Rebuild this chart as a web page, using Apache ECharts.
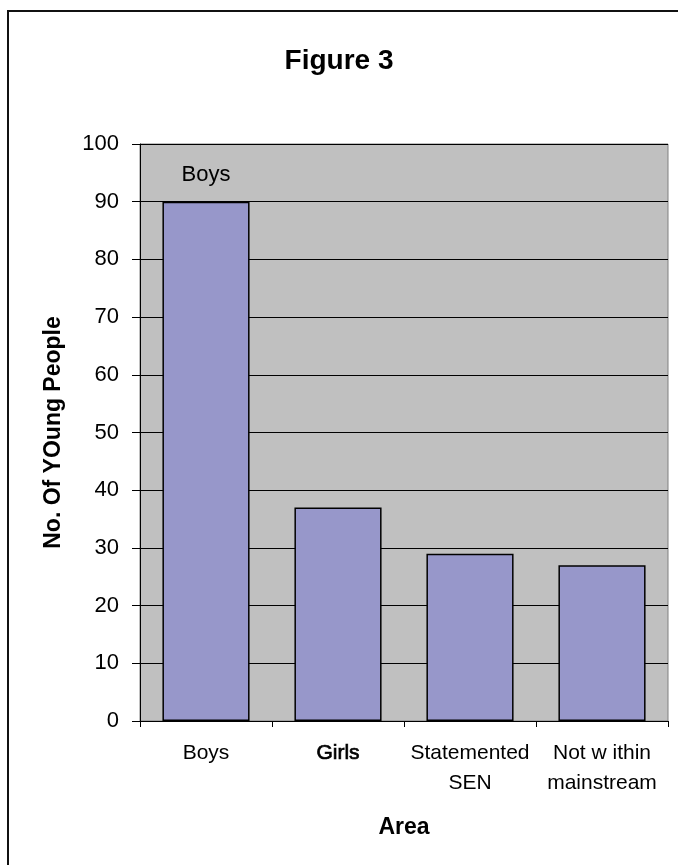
<!DOCTYPE html>
<html>
<head>
<meta charset="utf-8">
<script src="https://cdn.jsdelivr.net/npm/echarts@6/dist/echarts.min.js"></script>
<style>
  html, body { margin: 0; padding: 0; background: #fff; }
  #chart { width: 678px; height: 865px; }
</style>
</head>
<body>
<div id="chart"></div>
<script>
// Young people by area
const categories = ['Boys', 'Girls', 'Statemented\nSEN', 'Not w ithin\nmainstream'];
const counts = [90, 37, 29, 27];
const yTicks = { min: 0, max: 100, interval: 10 };

const FONT = '"Liberation Sans", Arial, sans-serif';

const chart = echarts.init(document.getElementById('chart'), null, { renderer: 'canvas' });

chart.setOption({
  backgroundColor: '#ffffff',
  animation: false,
  textStyle: { fontFamily: FONT, color: '#000' },
  title: {
    text: 'Figure 3',
    left: 'center',
    top: 42,
    textStyle: { fontFamily: FONT, fontSize: 28, fontWeight: 'bold', color: '#000' }
  },
  graphic: [{
    type: 'rect',
    shape: { x: 8, y: 11, width: 720, height: 900 },
    style: { fill: 'none', stroke: '#111', lineWidth: 2 },
    silent: true
  }],
  grid: {
    left: 140, right: 10, top: 144, bottom: 144,
    show: true, backgroundColor: '#C0C0C0', borderColor: '#808080', borderWidth: 1
  },
  xAxis: {
    type: 'category',
    data: categories,
    name: 'Area',
    nameLocation: 'middle',
    nameGap: 95,
    nameTextStyle: { fontFamily: FONT, fontSize: 23, fontWeight: 'bold', color: '#000' },
    axisLine: { show: true, lineStyle: { color: '#000', width: 1 } },
    axisTick: { show: true, alignWithLabel: false, length: 6, lineStyle: { color: '#000' } },
    axisLabel: {
      margin: 17,
      fontFamily: FONT,
      fontSize: 21,
      color: '#000',
      lineHeight: 30,
      interval: 0,
      formatter: function (v) { return v === 'Girls' ? '{g|' + v + '}' : v; },
      rich: {
        g: { fontFamily: FONT, fontSize: 21, lineHeight: 30, color: '#000', textBorderColor: '#000', textBorderWidth: 0.7 }
      }
    },
    splitLine: { show: false }
  },
  yAxis: {
    type: 'value',
    min: yTicks.min,
    max: yTicks.max,
    interval: yTicks.interval,
    name: 'No. Of YOung People',
    nameLocation: 'middle',
    nameGap: 75,
    nameRotate: 90,
    nameTextStyle: { fontFamily: FONT, fontSize: 23, fontWeight: 'bold', color: '#000' },
    axisLine: { show: true, lineStyle: { color: '#000', width: 1 } },
    axisTick: { show: true, length: 8, lineStyle: { color: '#000' } },
    axisLabel: { margin: 21, fontFamily: FONT, fontSize: 22, color: '#000' },
    splitLine: { show: true, lineStyle: { color: '#000', width: 1 } }
  },
  series: [{
    type: 'bar',
    data: counts.map(function (v, i) {
      const item = { value: v };
      if (i === 0) {
        item.label = {
          show: true,
          position: 'top',
          distance: 16,
          formatter: function () { return categories[0]; },
          fontFamily: FONT, fontSize: 22, color: '#000'
        };
      }
      return item;
    }),
    barCategoryGap: '34%',
    itemStyle: { color: '#9797CA', borderColor: '#000', borderWidth: 1.5 }
  }]
});
</script>
</body>
</html>
